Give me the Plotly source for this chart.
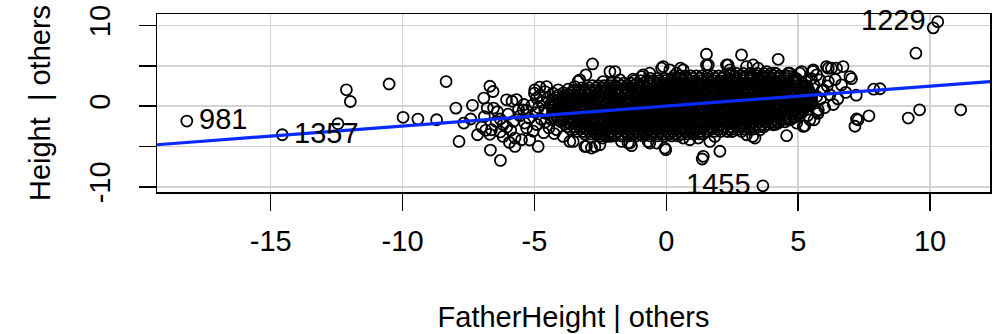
import plotly.graph_objects as go

# ---------------- data ----------------
# scattered / fringe points (FatherHeight | others, Height | others)
outer_x = [-18.18, -14.56, -12.13, -11.98, -12.45, -10.51, -9.98, -9.42, -8.71, -8.35,
           -7.98, -7.86, -7.68, -7.35, -7.42, -7.16, -6.92, -6.69, -6.57, -6.79,
           -6.55, -6.67, -6.29, -6.69, -6.63, -6.06, -5.85, -5.68, -6.19, -6.19,
           -5.74, -5.74, -5.49, -5.43, -5.37, -5.18, -4.86, -4.99, -4.92, -4.80,
           -4.54, -4.10, -3.72, -3.34, -3.05, -2.80, -4.61, -4.35, -4.16, -3.91,
           -3.66, -3.03, -2.84, -2.52, -1.38, -0.63, -0.06, -2.14, -1.95, -0.88,
           -1.26, -0.18, 0.54, 1.52, 2.85, 4.24, 2.34, 1.59, 3.29, 3.80,
           4.62, 5.13, 1.36, 2.03, 3.27, 4.56, 5.25, 3.66, 5.56, 6.14,
           6.45, 6.70, 6.96, 7.02, 6.64, 6.33, 5.76, 7.20, 7.15, 7.27,
           7.68, 7.86, 8.10, 9.17, 9.60, 11.16, 9.46, 10.12, 10.29,
           4.68, 5.06, 5.57, 5.70, 6.07, 6.26, 6.14, 5.82, 5.95, 5.70,
           5.44, 5.19, 4.05, 4.24, 4.68, 4.94, 7.21,
           -3.47, -3.28, -2.40, -1.76, -0.94, -0.63, -0.12, 0.13, 0.39,
           -3.53, -3.09, -2.71, -2.40, -2.14, -1.70, -1.45, -1.32, -0.69, -0.37, -0.02,
           0.64, 1.52, 2.28, 2.41, 3.04, 3.48, 4.11,
           0.89, 1.21, 1.40, 1.65, 1.84, 2.85, 3.04, 3.36, 3.55, 0.64,
           -5.55, -5.40, -5.30, -5.20, -5.10, -5.05, -4.95, -4.90, -4.80, -4.75,
           -4.70, -4.65, -4.60, -4.55, -4.50, -4.45, -4.40, -4.35, -4.30, -4.25,
           -4.60, -5.00, -5.60, -5.80, -5.90, -6.00, -6.30, -6.40, -5.30, -4.85,
           -7.00, -6.85, -6.45, -6.30, -6.05, -5.95, -6.90,
           5.40, 5.50, 5.60, 5.70, 5.75, 5.85, 5.90, 6.00, 6.10, 6.20,
           5.50, 5.35, 5.60, 6.40, 6.50, 5.30, 6.80]
outer_y = [-1.85, -3.55, 2.02, 0.57, -2.19, 2.74, -1.39, -1.61, -1.69, 3.04,
           -0.25, -4.38, -2.10, 0.10, -1.60, -3.55, 0.99, 2.46, 1.81, -0.25,
           -0.25, -5.45, -6.73, -3.50, -2.93, 0.78, 0.60, 0.80, -2.31, -3.76,
           -3.96, -5.00, -4.17, -0.46, -2.10, -4.20, -5.00, 2.02, 0.99, 2.35,
           2.42, 2.02, 2.10, 3.08, 3.87, 5.23, -0.46, -1.69, -2.93, -3.76,
           -4.38, -5.00, -5.20, -4.79, -4.58, -4.58, -5.20, 4.28, 4.28, 3.87,
           3.34, 4.70, 4.70, 6.43, 6.35, 5.80, 5.10, 5.10, 5.10, 4.28,
           4.08, 4.28, -6.56, -5.60, -3.76, -3.67, -2.44, -9.88, 4.30, 4.70,
           4.70, 4.90, 3.66, 3.40, 2.63, 0.20, -0.46, 1.35, -2.50, -1.70,
           -1.20, 2.10, 2.15, -1.48, -0.46, -0.46, 6.56, 9.70, 10.46,
           4.08, 4.08, 4.49, 3.87, 4.90, 4.70, 3.04, 3.25, 2.02, -0.67,
           -1.69, -2.52, -2.31, -2.10, -1.69, -2.10, -1.60,
           2.42, 3.25, 3.04, 3.25, 3.66, 4.08, 4.90, 4.49, 4.08,
           -4.38, -5.00, -5.00, -3.96, -3.76, -4.38, -4.58, -4.91, -4.38, -4.58, -5.40,
           4.49, 5.10, 5.10, 4.49, 4.90, 4.70, 4.08,
           -4.17, -3.96, -6.23, -4.38, -3.76, -3.14, -3.55, -3.96, -2.93, -3.96,
           -1.20, 0.20, -2.70, -1.50, 0.10, -3.10, -0.80, -2.30, 1.30, -1.60,
           0.50, -3.30, -2.00, -0.90, 1.00, -2.70, 0.20, -1.20, 1.60, -3.40,
           1.80, 1.60, -0.40, -1.90, -3.00, -1.00, -1.60, -0.70, -0.50, -0.20,
           -2.60, -3.00, -1.90, -3.20, -2.60, -4.50, -1.30,
           1.80, 0.40, 2.60, 1.20, -0.90, 0.90, 1.90, -0.20, 2.50, 1.40,
           3.40, -1.20, -1.70, 3.30, 0.90, 3.00, 1.70]

# dense (solid black) core of the cloud: one row of FatherHeight values per Height level
core_rows = [
    (4.05, [2.4, 2.66, 2.92, 3.18, 3.44, 3.7, 3.96, 4.15]),
    (3.75, [0.3, 0.51, 0.72, 0.93, 1.14, 1.35, 1.56, 1.77, 1.98, 2.19, 2.4, 2.61, 2.82, 3.03,
            3.24, 3.45, 3.66, 3.87, 4.08, 4.29, 4.5, 4.62]),
    (3.45, [-0.6, -0.33, -0.06, 0.21, 0.48, 0.75, 1.02, 1.29, 1.56, 1.83, 2.1, 2.37, 2.64,
            2.91, 3.18, 3.45, 3.72, 3.99, 4.26, 4.53, 4.8, 4.92]),
    (3.15, [-1.2, -0.97, -0.74, -0.51, -0.28, -0.05, 0.18, 0.41, 0.64, 0.87, 1.1, 1.33, 1.56,
            1.79, 2.02, 2.25, 2.48, 2.71, 2.94, 3.17, 3.4, 3.63, 3.86, 4.09, 4.32, 4.55, 4.78,
            5.01]),
    (2.85, [-2.1, -1.85, -1.6, -1.35, -1.1, -0.85, -0.6, -0.35, -0.1, 0.15, 0.4, 0.65, 0.9,
            1.15, 1.4, 1.65, 1.9, 2.15, 2.4, 2.65, 2.9, 3.15, 3.4, 3.65, 3.9, 4.15, 4.4, 4.65,
            4.9, 5.15]),
    (2.55, [-2.8, -2.58, -2.36, -2.14, -1.92, -1.7, -1.48, -1.26, -1.04, -0.82, -0.6, -0.38,
            -0.16, 0.06, 0.28, 0.5, 0.72, 0.94, 1.16, 1.38, 1.6, 1.82, 2.04, 2.26, 2.48, 2.7,
            2.92, 3.14, 3.36, 3.58, 3.8, 4.02, 4.24, 4.46, 4.68, 4.9, 5.12, 5.3]),
    (2.25, [-3.2, -2.93, -2.66, -2.39, -2.12, -1.85, -1.58, -1.31, -1.04, -0.77, -0.5, -0.23,
            0.04, 0.31, 0.58, 0.85, 1.12, 1.39, 1.66, 1.93, 2.2, 2.47, 2.74, 3.01, 3.28, 3.55,
            3.82, 4.09, 4.36, 4.63, 4.9, 5.17, 5.35]),
    (1.95, [-3.5, -3.3, -3.1, -2.9, -2.7, -2.5, -2.3, -2.1, -1.9, -1.7, -1.5, -1.3, -1.1, -0.9,
            -0.7, -0.5, -0.3, -0.1, 0.1, 0.3, 0.5, 0.7, 0.9, 1.1, 1.3, 1.5, 1.7, 1.9, 2.1, 2.3,
            2.5, 2.7, 2.9, 3.1, 3.3, 3.5, 3.7, 3.9, 4.1, 4.3, 4.5, 4.7, 4.9, 5.1, 5.3, 5.4]),
    (1.65, [-3.9, -3.64, -3.38, -3.12, -2.86, -2.6, -2.34, -2.08, -1.82, -1.56, -1.3, -1.04,
            -0.78, -0.52, -0.26, 0.0, 0.26, 0.52, 0.78, 1.04, 1.3, 1.56, 1.82, 2.08, 2.34, 2.6,
            2.86, 3.12, 3.38, 3.64, 3.9, 4.16, 4.42, 4.68, 4.94, 5.2, 5.46]),
    (1.35, [-4.1, -3.87, -3.64, -3.41, -3.18, -2.95, -2.72, -2.49, -2.26, -2.03, -1.8, -1.57,
            -1.34, -1.11, -0.88, -0.65, -0.42, -0.19, 0.04, 0.27, 0.5, 0.73, 0.96, 1.19, 1.42,
            1.65, 1.88, 2.11, 2.34, 2.57, 2.8, 3.03, 3.26, 3.49, 3.72, 3.95, 4.18, 4.41, 4.64,
            4.87, 5.1, 5.33, 5.5]),
    (1.05, [-4.2, -3.92, -3.64, -3.36, -3.08, -2.8, -2.52, -2.24, -1.96, -1.68, -1.4, -1.12,
            -0.84, -0.56, -0.28, 0.0, 0.28, 0.56, 0.84, 1.12, 1.4, 1.68, 1.96, 2.24, 2.52, 2.8,
            3.08, 3.36, 3.64, 3.92, 4.2, 4.48, 4.76, 5.04, 5.32, 5.5]),
    (0.75, [-4.3, -4.09, -3.88, -3.67, -3.46, -3.25, -3.04, -2.83, -2.62, -2.41, -2.2, -1.99,
            -1.78, -1.57, -1.36, -1.15, -0.94, -0.73, -0.52, -0.31, -0.1, 0.11, 0.32, 0.53,
            0.74, 0.95, 1.16, 1.37, 1.58, 1.79, 2.0, 2.21, 2.42, 2.63, 2.84, 3.05, 3.26, 3.47,
            3.68, 3.89, 4.1, 4.31, 4.52, 4.73, 4.94, 5.15, 5.36, 5.5]),
    (0.45, [-4.3, -4.05, -3.8, -3.55, -3.3, -3.05, -2.8, -2.55, -2.3, -2.05, -1.8, -1.55, -1.3,
            -1.05, -0.8, -0.55, -0.3, -0.05, 0.2, 0.45, 0.7, 0.95, 1.2, 1.45, 1.7, 1.95, 2.2,
            2.45, 2.7, 2.95, 3.2, 3.45, 3.7, 3.95, 4.2, 4.45, 4.7, 4.95, 5.2, 5.42]),
    (0.15, [-4.28, -4.06, -3.84, -3.62, -3.4, -3.18, -2.96, -2.74, -2.52, -2.3, -2.08, -1.86,
            -1.64, -1.42, -1.2, -0.98, -0.76, -0.54, -0.32, -0.1, 0.12, 0.34, 0.56, 0.78, 1.0,
            1.22, 1.44, 1.66, 1.88, 2.1, 2.32, 2.54, 2.76, 2.98, 3.2, 3.42, 3.64, 3.86, 4.08,
            4.3, 4.52, 4.74, 4.96, 5.18, 5.32]),
    (-0.15, [-4.3, -4.03, -3.76, -3.49, -3.22, -2.95, -2.68, -2.41, -2.14, -1.87, -1.6, -1.33,
             -1.06, -0.79, -0.52, -0.25, 0.02, 0.29, 0.56, 0.83, 1.1, 1.37, 1.64, 1.91, 2.18,
             2.45, 2.72, 2.99, 3.26, 3.53, 3.8, 4.07, 4.34, 4.61, 4.88, 5.15, 5.25]),
    (-0.45, [-4.32, -4.12, -3.92, -3.72, -3.52, -3.32, -3.12, -2.92, -2.72, -2.52, -2.32,
             -2.12, -1.92, -1.72, -1.52, -1.32, -1.12, -0.92, -0.72, -0.52, -0.32, -0.12,
             0.08, 0.28, 0.48, 0.68, 0.88, 1.08, 1.28, 1.48, 1.68, 1.88, 2.08, 2.28, 2.48,
             2.68, 2.88, 3.08, 3.28, 3.48, 3.68, 3.88, 4.08, 4.28, 4.48, 4.68, 4.88, 5.08,
             5.2]),
    (-0.75, [-4.25, -3.99, -3.73, -3.47, -3.21, -2.95, -2.69, -2.43, -2.17, -1.91, -1.65,
             -1.39, -1.13, -0.87, -0.61, -0.35, -0.09, 0.17, 0.43, 0.69, 0.95, 1.21, 1.47,
             1.73, 1.99, 2.25, 2.51, 2.77, 3.03, 3.29, 3.55, 3.81, 4.07, 4.33, 4.59, 4.85, 5.1]),
    (-1.05, [-4.2, -3.97, -3.74, -3.51, -3.28, -3.05, -2.82, -2.59, -2.36, -2.13, -1.9, -1.67,
             -1.44, -1.21, -0.98, -0.75, -0.52, -0.29, -0.06, 0.17, 0.4, 0.63, 0.86, 1.09,
             1.32, 1.55, 1.78, 2.01, 2.24, 2.47, 2.7, 2.93, 3.16, 3.39, 3.62, 3.85, 4.08, 4.31,
             4.54, 4.77, 5.0]),
    (-1.35, [-4.15, -3.87, -3.59, -3.31, -3.03, -2.75, -2.47, -2.19, -1.91, -1.63, -1.35,
             -1.07, -0.79, -0.51, -0.23, 0.05, 0.33, 0.61, 0.89, 1.17, 1.45, 1.73, 2.01, 2.29,
             2.57, 2.85, 3.13, 3.41, 3.69, 3.97, 4.25, 4.53, 4.81, 4.9]),
    (-1.65, [-4.1, -3.89, -3.68, -3.47, -3.26, -3.05, -2.84, -2.63, -2.42, -2.21, -2.0, -1.79,
             -1.58, -1.37, -1.16, -0.95, -0.74, -0.53, -0.32, -0.11, 0.1, 0.31, 0.52, 0.73,
             0.94, 1.15, 1.36, 1.57, 1.78, 1.99, 2.2, 2.41, 2.62, 2.83, 3.04, 3.25, 3.46, 3.67,
             3.88, 4.09, 4.3, 4.51, 4.72]),
    (-1.95, [-4.0, -3.75, -3.5, -3.25, -3.0, -2.75, -2.5, -2.25, -2.0, -1.75, -1.5, -1.25,
             -1.0, -0.75, -0.5, -0.25, 0.0, 0.25, 0.5, 0.75, 1.0, 1.25, 1.5, 1.75, 2.0, 2.25,
             2.5, 2.75, 3.0, 3.25, 3.5, 3.75, 4.0, 4.25, 4.5]),
    (-2.25, [-3.85, -3.63, -3.41, -3.19, -2.97, -2.75, -2.53, -2.31, -2.09, -1.87, -1.65,
             -1.43, -1.21, -0.99, -0.77, -0.55, -0.33, -0.11, 0.11, 0.33, 0.55, 0.77, 0.99,
             1.21, 1.43, 1.65, 1.87, 2.09, 2.31, 2.53, 2.75, 2.97, 3.19, 3.41, 3.63, 3.85,
             4.07, 4.15]),
    (-2.55, [-3.75, -3.48, -3.21, -2.94, -2.67, -2.4, -2.13, -1.86, -1.59, -1.32, -1.05,
             -0.78, -0.51, -0.24, 0.03, 0.3, 0.57, 0.84, 1.11, 1.38, 1.65, 1.92, 2.19, 2.46,
             2.73, 3.0, 3.27, 3.54, 3.7]),
    (-2.85, [-3.65, -3.45, -3.25, -3.05, -2.85, -2.65, -2.45, -2.25, -2.05, -1.85, -1.65,
             -1.45, -1.25, -1.05, -0.85, -0.65, -0.45, -0.25, -0.05, 0.15, 0.35, 0.55, 0.75,
             0.95, 1.15, 1.35, 1.55, 1.75, 1.95, 2.15, 2.35, 2.55, 2.75, 2.95, 3.15, 3.3]),
    (-3.15, [-3.4, -3.14, -2.88, -2.62, -2.36, -2.1, -1.84, -1.58, -1.32, -1.06, -0.8, -0.54,
             -0.28, -0.02, 0.24, 0.5, 0.76, 1.02, 1.28, 1.54, 1.8, 2.06, 2.32, 2.5]),
    (-3.45, [-3.1, -2.87, -2.64, -2.41, -2.18, -1.95, -1.72, -1.49, -1.26, -1.03, -0.8, -0.57,
             -0.34, -0.11, 0.12, 0.35, 0.58, 0.81, 1.04, 1.27, 1.4]),
    (-3.7, [-2.5, -2.23, -1.96, -1.69, -1.42, -1.15, -0.88, -0.61, -0.34, -0.07, 0.2, 0.45]),
]

# labelled cases
label_ids = ["981", "1357", "1229", "1455"]
label_x = [-18.18, -14.56, 10.29, 3.66]
label_y = [-1.85, -3.55, 10.46, -9.88]
label_side = ["right", "right", "left", "left"]

# fitted added-variable line
line_intercept = 0.0
line_slope = 0.248

x_range = [-19.31, 12.27]
y_range = [-10.65, 11.42]
x_ticks = [-15, -10, -5, 0, 5, 10]
x_ticktext = ["-15", "-10", "-5", "0", "5", "10"]
y_ticks = [-10, -5, 0, 5, 10]
y_ticktext = ["-10", "", "0", "", "10"]

# ---------------- figure ----------------
pts_x = list(outer_x)
pts_y = list(outer_y)
for yv, xs in core_rows:
    pts_x += xs
    pts_y += [yv] * len(xs)

FONT = "Liberation Sans, Arial, Helvetica, sans-serif"
FS = 29

fig = go.Figure()
fig.add_trace(go.Scatter(
    x=pts_x, y=pts_y, mode="markers",
    marker=dict(symbol="circle-open", size=11, color="black", line=dict(width=1.8)),
    hoverinfo="skip", cliponaxis=False,
))
fig.add_trace(go.Scatter(
    x=x_range, y=[line_intercept + line_slope * v for v in x_range],
    mode="lines", line=dict(color="#0A2AFF", width=3.2), hoverinfo="skip",
))

for lid, lx, ly, side in zip(label_ids, label_x, label_y, label_side):
    fig.add_annotation(
        x=lx, y=ly, text=lid, showarrow=False,
        xanchor="left" if side == "right" else "right", yanchor="middle",
        xshift=11 if side == "right" else -11, yshift=2,
        borderpad=0, font=dict(family=FONT, size=FS, color="black"),
    )

axis_common = dict(
    showgrid=True, gridcolor="#D3D3D3", gridwidth=1.6, zeroline=False,
    showline=True, linecolor="black", linewidth=1.5, mirror=True,
    ticks="outside", ticklen=17, tickwidth=1.5, tickcolor="black",
    tickfont=dict(family=FONT, size=FS, color="black"), automargin=False,
)

fig.update_layout(
    width=994, height=334,
    margin=dict(l=157, r=4, t=14, b=142),
    plot_bgcolor="white", paper_bgcolor="white",
    showlegend=False,
    font=dict(family=FONT, size=FS, color="black"),
    xaxis=dict(range=x_range, tickmode="array", tickvals=x_ticks, ticktext=x_ticktext,
               title=dict(text="FatherHeight | others", font=dict(family=FONT, size=FS),
                          standoff=50),
               ticklabelstandoff=6, **axis_common),
    yaxis=dict(range=y_range, tickmode="array", tickvals=y_ticks, ticktext=y_ticktext,
               tickangle=-90,
               title=dict(text="Height\u00a0 | others", font=dict(family=FONT, size=FS),
                          standoff=25),
               ticklabelstandoff=17, **axis_common),
)

fig.write_html(
    "out.html",
    config={"displayModeBar": False, "staticPlot": True},
    post_script="document.body.style.margin='0';document.body.style.overflow='hidden';",
)
